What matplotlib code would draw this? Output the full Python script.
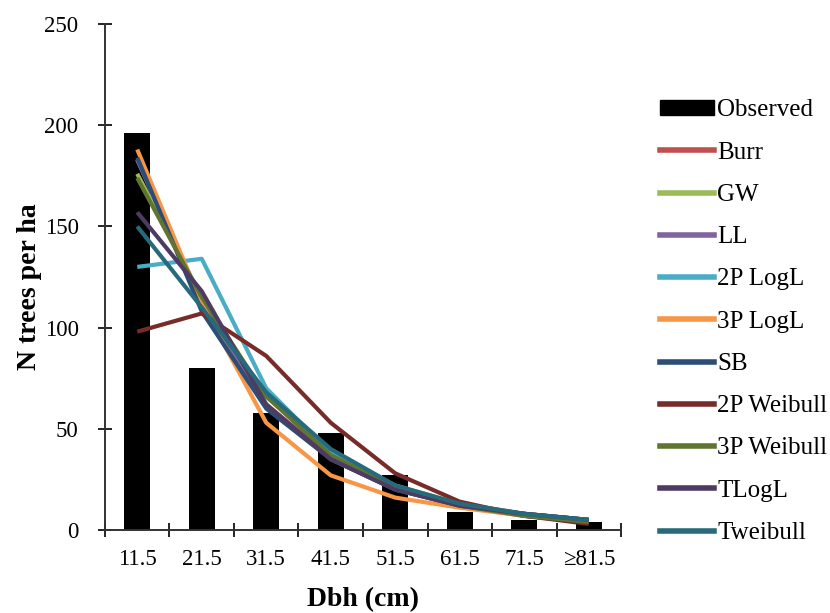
import numpy as np
import matplotlib.pyplot as plt
from matplotlib.patches import Patch
from matplotlib.lines import Line2D

plt.rcParams["font.family"] = ["Liberation Serif", "DejaVu Serif"]

# ── data ──────────────────────────────────────────────────────────────
dbh_classes = ["11.5", "21.5", "31.5", "41.5", "51.5", "61.5", "71.5", "≥81.5"]
observed = [196, 80, 58, 48, 27, 9, 5, 4]

burr        = [183, 112, 62, 36, 21, 13, 8, 5]
gw          = [176, 115, 66, 38, 22, 13, 8, 5]
ll          = [183, 112, 62, 35, 20, 12, 7, 4]
logl_2p     = [130, 134, 70, 38, 21, 12, 7, 4]
logl_3p     = [188, 112, 53, 27, 16, 11, 7, 5]
sb          = [184, 108, 60, 35, 20, 12, 8, 5]
weibull_2p  = [98, 107, 86, 53, 28, 14, 7, 3]
weibull_3p  = [174, 115, 66, 37, 21, 12, 7, 4]
tlogl       = [157, 118, 62, 35, 20, 12, 8, 5]
tweibull    = [150, 110, 68, 40, 22, 13, 8, 5]

series_names = ["Burr", "GW", "LL", "2P LogL", "3P LogL", "SB",
                "2P Weibull", "3P Weibull", "TLogL", "Tweibull"]
series_values = [burr, gw, ll, logl_2p, logl_3p, sb,
                 weibull_2p, weibull_3p, tlogl, tweibull]
series_colors = ["#c0504d", "#9bbb59", "#8064a2", "#4bacc6", "#f79646",
                 "#2c4d75", "#772c2a", "#5f7530", "#4d3b62", "#276a7c"]

# ── figure ────────────────────────────────────────────────────────────
fig = plt.figure(figsize=(8.3, 6.13), dpi=100)
ax = fig.add_axes([0.1265, 0.1354, 0.6217, 0.8254])

x = np.arange(len(dbh_classes))
ax.bar(x, observed, width=0.4, color="black", zorder=1)
for vals, col in zip(series_values, series_colors):
    ax.plot(x, vals, color=col, lw=3, solid_capstyle="butt", zorder=2)

ax.set_xlim(-0.5, len(dbh_classes) - 0.5)
ax.set_ylim(0, 250)
ax.set_yticks(np.arange(0, 251, 50))
ax.set_xticks(x)
ax.set_xticklabels(dbh_classes)
ax.set_xticks(np.arange(-0.5, len(dbh_classes), 1), minor=True)
ax.tick_params(axis="x", which="major", length=0, labelsize=16.5, pad=14)
ax.tick_params(axis="x", which="minor", direction="inout", length=10, width=1.2)
ax.tick_params(axis="y", direction="inout", length=10, width=1.2,
               labelsize=16.5, pad=14)

for side in ["top", "right"]:
    ax.spines[side].set_visible(False)
for side in ["left", "bottom"]:
    ax.spines[side].set_color("#333333")
    ax.spines[side].set_linewidth(1.4)

ax.set_xlabel("Dbh (cm)", fontsize=20, fontweight="bold")
ax.set_ylabel("N trees per ha", fontsize=20, fontweight="bold")
ax.xaxis.set_label_coords(0.5, -0.113)
ax.yaxis.set_label_coords(-0.122, 0.48)

handles = [Patch(facecolor="black", edgecolor="black")]
handles += [Line2D([], [], color=c, lw=4) for c in series_colors]
labels = ["Observed"] + series_names
fig.legend(handles, labels, loc="upper left", bbox_to_anchor=(0.795, 0.838),
           frameon=False, fontsize=18, handlelength=2.15, handleheight=0.55,
           handletextpad=0.15, labelspacing=0.81, borderpad=0,
           borderaxespad=0)

plt.savefig("out.png", dpi=100)
